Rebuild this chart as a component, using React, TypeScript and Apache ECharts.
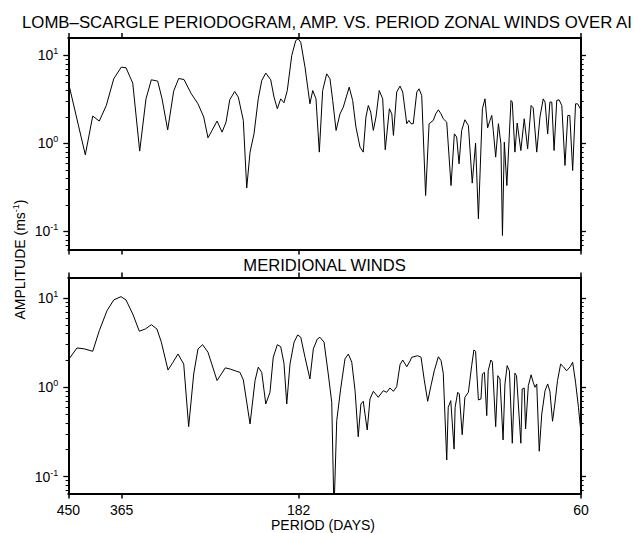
import React, { useEffect, useRef } from "react";
import * as echarts from "echarts";

// ---- data ----
const xTickPeriods = [450, 365, 182, 60];
const yMajorTicks = [0.1, 1, 10];
const yMinorTicks = [0.07, 0.08, 0.09, 0.2, 0.3, 0.4, 0.5, 0.6, 0.7, 0.8, 0.9, 2, 3, 4, 5, 6, 7, 8, 9];

const zonalPeriod = [
  450, 420.9, 408.8, 398.4, 387.6, 376.4, 365.4, 358.7, 349.3, 339.9,
  331.6, 324.7, 316.7, 311.3, 304.5, 297.4, 291.6, 285.6, 277.5, 270.3,
  264.3, 259.9, 255.8, 250.8, 245.9, 242.1, 238.6, 234.0, 230.7, 226.2,
  223.2, 220.3, 216.9, 213.3, 210.4, 207.1, 203.1, 200.5, 197.9, 195.3,
  192.8, 190.3, 187.0, 184.1, 182.3, 180.5, 177.5, 174.1, 172.2, 170.0,
  167.8, 165.6, 163.0, 160.9, 159.2, 157.1, 154.7, 152.7, 149.2, 147.2,
  145.3, 143.0, 141.2, 139.7, 138.4, 137.1, 135.7, 134.3, 132.6, 130.8,
  129.5, 127.4, 126.2, 125.4, 123.8, 122.2, 120.9, 119.0, 118.0, 117.0,
  116.0, 114.4, 113.4, 112.2, 110.5, 109.0, 107.2, 106.2, 105.1, 104.0,
  103.1, 101.7, 100.0, 98.7, 97.8, 96.9, 95.9, 94.7, 93.4, 92.0,
  90.8, 89.8, 88.4, 87.5, 86.6, 85.8, 85.2, 84.7, 83.9, 83.0,
  82.2, 81.7, 81.1, 80.3, 79.0, 78.6, 77.8, 77.1, 76.0, 75.0,
  74.0, 73.0, 72.4, 71.4, 70.5, 69.6, 69.1, 68.4, 67.8, 67.3,
  66.7, 66.0, 65.4, 64.7, 63.9, 63.2, 62.7, 62.0, 61.3, 60.8,
  60.0,
];
const zonalAmp = [
  4.96, 0.74, 2.04, 1.79, 2.69, 5.41, 7.34, 7.21, 4.83, 0.815,
  3.2, 5.27, 5.09, 3.2, 1.42, 3.92, 5.45, 5.31, 3.65, 2.81,
  1.99, 1.155, 1.4, 1.79, 1.34, 1.74, 3.12, 3.88, 3.35, 1.82,
  0.31, 0.794, 1.28, 3.2, 5.17, 6.28, 5.27, 3.35, 2.47, 3.2,
  2.89, 3.98, 9.95, 14.7, 15.4, 14.1, 7.34, 2.81, 3.98, 3.2,
  0.794, 3.98, 6.16, 5.41, 3.07, 1.4, 2.16, 2.58, 4.35, 3.07,
  1.53, 0.905, 0.794, 1.99, 2.69, 2.26, 1.4, 1.99, 3.98, 3.2,
  0.844, 2.47, 2.16, 1.23, 3.82, 4.47, 3.82, 1.67, 1.82, 1.67,
  1.67, 3.82, 4.16, 3.49, 0.255, 1.67, 1.82, 2.16, 2.4, 2.16,
  1.9, 1.74, 0.331, 1.28, 1.18, 0.585, 1.4, 1.85, 1.59, 0.353,
  1.005, 0.139, 2.47, 3.2, 1.5, 1.82, 2.07, 1.4, 0.697, 1.67,
  0.987, 0.0896, 1.03, 0.331, 3.07, 2.94, 0.794, 1.7, 0.828, 1.9,
  0.866, 2.69, 2.53, 0.794, 1.99, 3.2, 2.94, 1.28, 2.94, 2.94,
  0.828, 3.07, 3.12, 2.69, 0.56, 2.07, 2.07, 0.491, 2.81, 2.81,
  2.4,
];

const meridPeriod = [
  450, 434.9, 421.9, 408.8, 398.4, 386.5, 376.4, 365.8, 358.7, 349.3,
  340.4, 332.5, 324.7, 317.6, 312.2, 304.1, 298.2, 292.4, 285.9, 280.4,
  274.9, 270.3, 265.4, 259.9, 250.8, 242.8, 238.1, 232.2, 229.2, 226.2,
  220.3, 216.0, 213.3, 210.4, 207.1, 203.7, 201.1, 197.9, 195.3, 192.8,
  190.7, 188.3, 185.3, 182.7, 180.5, 177.5, 174.1, 171.8, 169.1, 167.4,
  164.7, 162.0, 159.8, 158.4, 156.7, 154.3, 151.7, 149.7, 147.7, 145.8,
  144.0, 142.5, 141.2, 139.0, 137.5, 135.7, 133.1, 130.5, 128.8, 127.1,
  125.4, 123.8, 122.2, 120.9, 119.0, 117.5, 116.7, 114.0, 112.5, 111.1,
  109.6, 108.2, 106.8, 105.1, 104.0, 103.1, 101.7, 101.1, 100.1, 98.8,
  98.4, 97.4, 96.8, 95.7, 94.7, 93.4, 92.2, 91.4, 90.8, 89.8,
  88.9, 88.4, 87.7, 86.9, 86.4, 85.5, 85.0, 83.9, 83.2, 82.5,
  81.5, 80.9, 80.2, 79.5, 78.6, 77.8, 77.3, 76.0, 75.6, 75.0,
  74.6, 73.8, 73.0, 72.4, 71.9, 71.4, 70.7, 70.0, 69.1, 68.4,
  67.8, 67.1, 66.5, 65.8, 65.0, 64.3, 63.5, 62.6, 62.0, 61.3,
  60.6, 60.0,
];
const meridAmp = [
  2.02, 2.76, 2.69, 2.53, 4.31, 7.22, 9.52, 10.37, 9.52, 6.63,
  4.25, 4.5, 5.03, 4.5, 3.2, 1.56, 1.91, 2.36, 1.82, 0.362,
  1.41, 2.69, 3.0, 2.47, 1.19, 1.65, 1.6, 1.51, 1.47, 1.21,
  0.388, 1.19, 1.68, 1.47, 0.65, 0.879, 2.17, 3.0, 2.85, 1.86,
  0.65, 1.82, 3.2, 3.86, 3.64, 2.17, 1.24, 2.69, 3.48, 3.64,
  3.2, 1.41, 0.679, 0.04, 0.422, 0.957, 2.08, 2.36, 1.91, 0.916,
  0.279, 0.65, 0.697, 0.332, 0.739, 0.902, 0.773, 0.916, 0.879, 0.982,
  0.902, 1.015, 1.79, 2.02, 1.7, 1.96, 2.17, 2.26, 2.17, 1.21,
  0.697, 1.04, 1.53, 2.2, 1.99, 1.44, 0.153, 0.597, 0.708, 0.203,
  0.597, 0.879, 0.841, 0.294, 0.773, 0.879, 1.75, 2.62, 2.53, 0.721,
  0.739, 1.41, 1.47, 0.481, 1.53, 2.02, 1.91, 0.362, 1.35, 1.24,
  0.257, 1.09, 1.75, 1.53, 0.236, 1.44, 1.35, 0.236, 0.957, 0.982,
  0.341, 1.04, 1.38, 1.14, 1.0, 1.09, 0.192, 0.502, 0.916, 1.09,
  0.902, 0.416, 0.65, 1.19, 1.82, 1.7, 1.53, 1.7, 1.91, 1.14,
  0.597, 0.305,
];

const FONT = '"Liberation Sans", Arial, Helvetica, sans-serif';
const BLACK = "#000";

const supRich = {
  b: { fontSize: 14, lineHeight: 17, fontFamily: FONT, color: BLACK },
  s: { fontSize: 9, lineHeight: 10, fontFamily: FONT, color: BLACK, verticalAlign: "top" },
};

function powerLabel(v: number) {
  const e = Math.round(Math.log10(v));
  return "{b|10}{s|" + (e < 0 ? "-" + Math.abs(e) : String(e)) + "}";
}

function makeYAxes(grid: number, min: number, max: number) {
  const base = {
    type: "log",
    logBase: 10,
    gridIndex: grid,
    min,
    max,
    splitLine: { show: false },
    minorTick: { show: false },
    minorSplitLine: { show: false },
  };
  const major = (pos: string, labels: boolean) => ({
    ...base,
    position: pos,
    axisLine: { show: true, onZero: false, lineStyle: { color: BLACK, width: 2 } },
    axisTick: { show: true, length: 5, lineStyle: { color: BLACK, width: 1.3 }, customValues: yMajorTicks },
    axisLabel: {
      show: labels,
      customValues: yMajorTicks,
      formatter: powerLabel,
      rich: supRich,
      margin: 10,
    },
  });
  const minor = (pos: string) => ({
    ...base,
    position: pos,
    axisLine: { show: false },
    axisTick: { show: true, length: 2.7, lineStyle: { color: BLACK, width: 1 }, customValues: yMinorTicks },
    axisLabel: { show: false },
  });
  return [major("left", true), minor("left"), major("right", false), minor("right")];
}

function makeXAxes(grid: number, labels: boolean) {
  const base = {
    type: "log",
    logBase: 10,
    gridIndex: grid,
    min: 60,
    max: 450,
    inverse: true,
    splitLine: { show: false },
    minorTick: { show: false },
    axisLine: { show: true, onZero: false, lineStyle: { color: BLACK, width: 2 } },
    axisTick: { show: true, length: 5, lineStyle: { color: BLACK, width: 1.5 }, customValues: xTickPeriods },
  };
  return [
    {
      ...base,
      position: "bottom",
      axisLabel: {
        show: labels,
        customValues: xTickPeriods,
        margin: 9.5,
        fontSize: 14,
        fontFamily: FONT,
        color: BLACK,
        formatter: (v: number) => String(Math.round(v)),
      },
    },
    { ...base, position: "top", axisLabel: { show: false } },
  ];
}

function pairs(xs: number[], ys: number[]) {
  return xs.map((x, i) => [x, ys[i]]);
}

export default function App() {
  const ref = useRef<HTMLDivElement>(null);
  useEffect(() => {
    if (!ref.current) return;
    const chart = echarts.init(ref.current, undefined, { renderer: "svg" });
    const option = {
      animation: false,
      backgroundColor: "#fff",
      textStyle: { fontFamily: FONT },
      grid: [
        { left: 68.3, right: 54, top: 38, height: 211.5 },
        { left: 68.3, right: 54, top: 277.5, height: 216 },
      ],
      xAxis: [...makeXAxes(0, false), ...makeXAxes(1, true)],
      yAxis: [...makeYAxes(0, 0.0621, 15.73), ...makeYAxes(1, 0.0645, 17.0)],
      series: [
        {
          type: "line",
          xAxisIndex: 0,
          yAxisIndex: 0,
          data: pairs(zonalPeriod, zonalAmp),
          showSymbol: false,
          symbol: "none",
          clip: true,
          silent: true,
          lineStyle: { color: BLACK, width: 1 },
        },
        {
          type: "line",
          xAxisIndex: 2,
          yAxisIndex: 4,
          data: pairs(meridPeriod, meridAmp),
          showSymbol: false,
          symbol: "none",
          clip: true,
          silent: true,
          lineStyle: { color: BLACK, width: 1 },
        },
      ],
      graphic: [
        {
          type: "text",
          x: 22,
          y: 22.5,
          style: {
            text: "LOMB–SCARGLE PERIODOGRAM, AMP. VS. PERIOD ZONAL WINDS OVER AI",
            fontSize: 16.8,
            fontFamily: FONT,
            fill: BLACK,
            align: "left",
            verticalAlign: "middle",
          },
        },
        {
          type: "text",
          x: 324.6,
          y: 265.2,
          style: {
            text: "MERIDIONAL WINDS",
            fontSize: 16.6,
            fontFamily: FONT,
            fill: BLACK,
            align: "center",
            verticalAlign: "middle",
          },
        },
        {
          type: "text",
          x: 323,
          y: 525,
          style: {
            text: "PERIOD (DAYS)",
            fontSize: 14,
            fontFamily: FONT,
            fill: BLACK,
            align: "center",
            verticalAlign: "middle",
          },
        },
        {
          type: "text",
          x: 20,
          y: 259.5,
          rotation: Math.PI / 2,
          style: {
            text: "{b|AMPLITUDE (ms}{s|-1}{b|)}",
            rich: supRich,
            fill: BLACK,
            align: "center",
            verticalAlign: "middle",
          },
        },
      ],
    };
    chart.setOption(option as any);
    return () => chart.dispose();
  }, []);
  return (
    <div
      ref={ref}
      style={{ position: "absolute", left: 0, top: 0, width: 635, height: 533 }}
    />
  );
}
